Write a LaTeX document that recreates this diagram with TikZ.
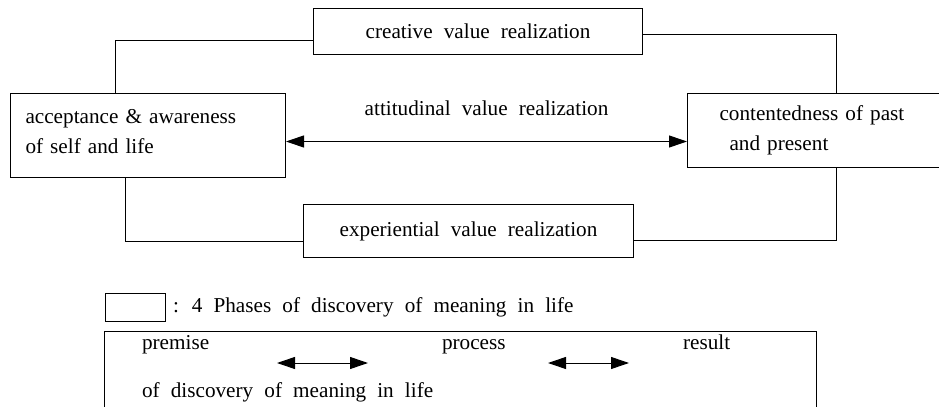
\documentclass[tikz,border=0pt]{standalone}
\usepackage{fontspec}
\setmainfont{Liberation Serif}[WordSpace=2.1]
\usetikzlibrary{positioning,arrows.meta}
\tikzset{
  phase/.style={draw, line width=0.5pt, inner sep=0pt},
  link/.style={line width=0.5pt},
  pair/.style={line width=0.5pt, {Triangle[length=9pt,width=6pt]}-{Triangle[length=9pt,width=6pt]}}
}

\begin{document}
\begin{tikzpicture}[x=0.5pt, y=-0.5pt, font=\fontsize{10.6}{15}\selectfont]
\useasboundingbox (0,0) rectangle (939,407);
% the four phases
\node(C) [phase, anchor=north west, minimum width=164.5pt, minimum height=23pt] at (313,8) {creative value realization};
\node(A) [phase, anchor=north west, minimum width=137.5pt, minimum height=42pt, align=left, text width=122.5pt, inner xsep=7.5pt] at (10,93) {acceptance \& awareness\\of self and life\strut};
\node(B) [phase, anchor=north west, minimum height=37pt, align=left, text width=100pt, inner xsep=16pt] at (687,93) {contentedness of past\\\hspace*{5pt}and present};
\node(E) [phase, anchor=north west, minimum width=165pt, minimum height=26.5pt] at (303,204) {experiential value realization};
% connectors
\draw[link] ([yshift=-4.5pt]C.west) -| ([xshift=52.5pt]A.north west);
\draw[link] ([yshift=-1.5pt]C.east) -| ([xshift=74.5pt]B.north west);
\draw[link] ([xshift=57.5pt]A.south west) |- ([yshift=-5.25pt]E.west);
\draw[link] ([yshift=-4.75pt]E.east) -| ([xshift=74.5pt]B.south west);
\coordinate(aL) at ([yshift=-3pt]A.east);
\draw[pair] (aL) -- (aL -| B.west) node[midway, above=9.5pt] {attitudinal value realization};
% legend
\node(L) [phase, anchor=north west, minimum width=30pt, minimum height=14pt] at (105,293) {};
\node(Lt) [right=0pt of L] {: 4 Phases of discovery of meaning in life};
\node(F) [phase, anchor=north west, minimum width=356pt, minimum height=60pt] at (104,331) {};
\node(P1) [anchor=base west] at (135,349) {premise};
\node(P2) [anchor=base west] at (435,349) {process};
\node(P3) [anchor=base west] at (676,349) {result};
\node(P4) [anchor=base west] at (135,397) {of discovery of meaning in life};
\coordinate(a1) at (277,363);
\coordinate(a2) at (368,363);
\coordinate(b1) at (548,363);
\coordinate(b2) at (629,363);
\draw[pair] (a1) -- (a2);
\draw[pair] (b1) -- (b2);
\end{tikzpicture}
\end{document}
